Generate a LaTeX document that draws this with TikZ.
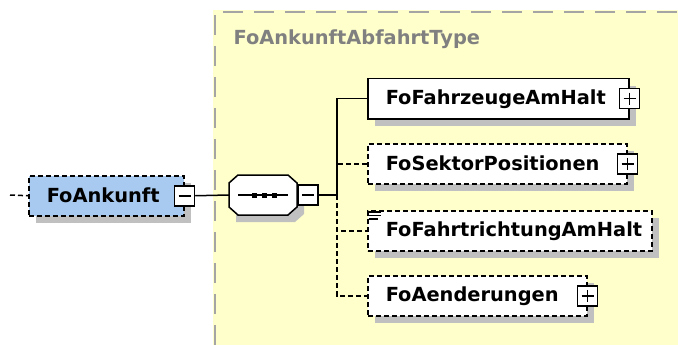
\documentclass[tikz,border=0pt]{standalone}
\usepackage{fontspec}
\setmainfont{DejaVu Sans}
\usetikzlibrary{shadows}
\definecolor{yellowbg}{RGB}{255,255,204}
\definecolor{bordergray}{RGB}{165,165,165}
\definecolor{headergray}{RGB}{128,128,128}
\definecolor{elemblue}{RGB}{168,202,240}
\definecolor{shadowgray}{RGB}{192,192,192}
\begin{document}
\begin{tikzpicture}[x=1pt,y=-1pt,
  lbl/.style={font=\bfseries\fontsize{19.4}{22}\selectfont},
  elem/.style={lbl, draw, line width=1.5pt, fill=white, rectangle, anchor=north west,
    minimum height=40pt, inner xsep=18pt, inner ysep=0pt, align=left,
    general shadow={fill=shadowgray, shadow xshift=7pt, shadow yshift=-7pt}},
  opt/.style={dash pattern=on 5pt off 3pt},
  conn/.style={line width=1.5pt},
  pm/.style={draw, line width=1.5pt, fill=white, minimum size=20pt, inner sep=0pt},
  minusbox/.style={pm, path picture={\draw[line width=1.5pt]
     ([xshift=4pt]path picture bounding box.west) -- ([xshift=-4pt]path picture bounding box.east);}},
  plusbox/.style={pm, path picture={\draw[line width=1.5pt]
     ([xshift=4pt]path picture bounding box.west) -- ([xshift=-4pt]path picture bounding box.east)
     ([yshift=-4pt]path picture bounding box.north) -- ([yshift=4pt]path picture bounding box.south);}}
]
\useasboundingbox (0,0) rectangle (678,345);
% complex type region
\fill[yellowbg] (213,10) rectangle (678,345);
\draw[bordergray, line width=2pt, dash pattern=on 20pt off 11pt] (215,345) -- (215,12) -- (678,12);
\node[lbl, anchor=base west, text=headergray] (hdr) at (230,45) {FoAnkunftAbfahrtType};

% root element
\coordinate (in) at (10,195);
\node[elem, opt, fill=elemblue, text width=119pt] (ank) at (28,175) {\mbox{FoAnkunft}};
\node[minusbox] (ankm) at (ank.east) {};
\draw[conn, opt] (in) -- (ank.west);

% sequence compositor
\fill[shadowgray] (236,182) -- (295,182) -- (304,190) -- (304,214) -- (295,222) -- (236,222) -- (236,182) -- cycle;
\node[minimum width=68pt, minimum height=40pt, inner sep=0pt] (seq) at (263,195) {};
\draw[line width=1.5pt, fill=white] (238,175) -- (288,175) -- (297,183) -- (297,207) -- (288,215) -- (238,215) -- (229,207) -- (229,183) -- cycle;
\draw[line width=1.5pt] (238,195) -- (288,195);
\foreach \xx in {254,264,274} \fill (\xx-2.5,192.5) rectangle (\xx+2.5,197.5);
\node[minusbox, anchor=west] (seqm) at (seq.east) {};
\draw[conn] (ankm.east) -- (seq.west);

% children
\node[elem, text width=225pt] (c1) at (367,78) {\mbox{FoFahrzeugeAmHalt}};
\node[plusbox] (c1p) at (c1.east) {};
\node[elem, opt, text width=223pt] (c2) at (367,143) {\mbox{FoSektorPositionen}};
\node[plusbox] (c2p) at (c2.east) {};
\node[elem, opt, text width=248pt] (c3) at (367,210) {\mbox{FoFahrtrichtungAmHalt}};
\node[elem, opt, text width=183pt] (c4) at (367,275) {\mbox{FoAenderungen}};
\node[plusbox] (c4p) at (c4.east) {};
% simple-content icon
\draw[line width=1.2pt] (368.5,212) -- (381,212) (368.5,215.5) -- (381,215.5) (368.5,219) -- (378,219);

% connectors
\coordinate (bus) at (337,195);
\draw[conn] (seqm.east) -- (bus);
\draw[conn] (bus) |- (c1.west);
\draw[conn, opt] (bus) |- (c2.west);
\draw[conn, opt] (bus) |- (c3.west);
\draw[conn, opt] (bus) |- (c4.west);
\end{tikzpicture}
\end{document}
